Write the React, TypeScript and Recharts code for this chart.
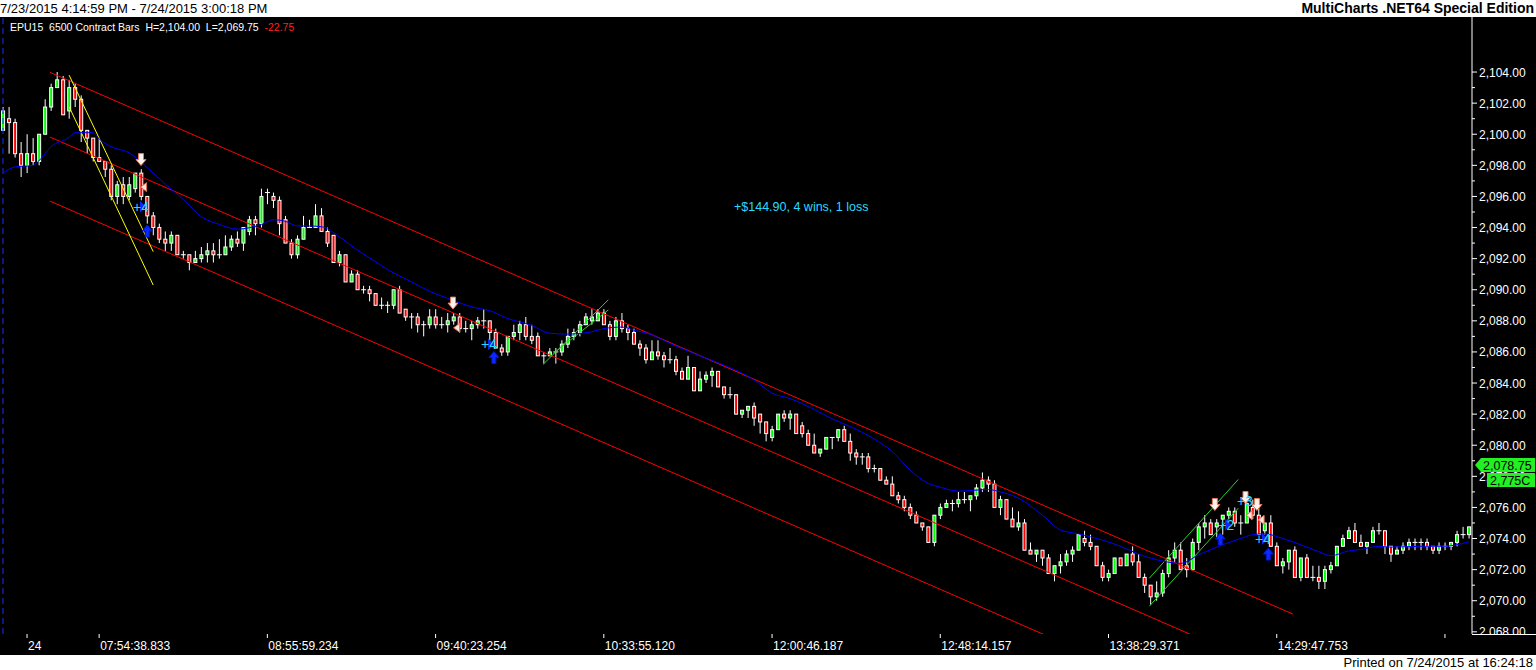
import React from 'react';
import { ComposedChart, Bar, Line, XAxis, YAxis, ReferenceLine, ReferenceDot } from 'recharts';

const opens = [
  2100.25, 2101.0, 2100.75, 2098.75, 2098.0, 2098.75, 2098.25, 2100.0, 2101.75, 2103.0,
  2103.5, 2101.5, 2103.0, 2102.25, 2100.25, 2099.75, 2098.5, 2098.25, 2097.75, 2096.0,
  2096.75, 2096.0, 2096.5, 2097.5, 2096.0, 2094.75, 2094.0, 2093.25, 2093.0, 2093.5,
  2092.25, 2092.25, 2091.75, 2092.0, 2092.25, 2092.5, 2092.25, 2092.25, 2092.75, 2093.25,
  2093.0, 2093.75, 2094.5, 2094.25, 2096.25, 2096.0, 2095.75, 2094.5, 2093.0, 2092.25,
  2093.25, 2094.0, 2094.0, 2094.75, 2093.75, 2093.5, 2091.75, 2092.25, 2090.5, 2091.0,
  2090.0, 2090.0, 2089.75, 2089.0, 2089.0, 2089.0, 2090.0, 2088.75, 2088.25, 2088.25,
  2087.75, 2087.75, 2088.25, 2087.75, 2087.75, 2088.0, 2088.25, 2087.5, 2087.5, 2087.75,
  2088.0, 2088.0, 2087.25, 2086.25, 2086.0, 2087.0, 2087.25, 2087.75, 2087.0, 2087.0,
  2085.75, 2085.75, 2086.0, 2086.0, 2086.5, 2087.0, 2087.25, 2087.75, 2088.0, 2088.0,
  2088.5, 2087.75, 2087.0, 2088.0, 2087.5, 2087.25, 2086.5, 2086.25, 2085.5, 2086.0,
  2085.75, 2085.5, 2085.5, 2084.75, 2084.25, 2085.0, 2083.5, 2084.25, 2084.5, 2084.75,
  2083.75, 2083.25, 2083.25, 2082.0, 2082.25, 2082.5, 2082.0, 2081.5, 2080.5, 2081.0,
  2082.0, 2081.75, 2082.0, 2081.25, 2080.75, 2080.0, 2079.5, 2079.75, 2080.5, 2080.5,
  2081.0, 2080.25, 2079.5, 2079.25, 2079.25, 2078.5, 2078.5, 2077.75, 2077.5, 2076.75,
  2076.5, 2076.0, 2075.5, 2075.0, 2074.75, 2073.75, 2075.5, 2076.0, 2076.25, 2076.25,
  2076.5, 2076.5, 2076.75, 2077.25, 2077.75, 2077.5, 2076.0, 2076.5, 2075.25, 2074.75,
  2075.0, 2073.25, 2073.0, 2073.25, 2072.75, 2071.75, 2072.25, 2072.5, 2073.0, 2073.25,
  2074.0, 2073.75, 2073.5, 2072.25, 2071.5, 2071.75, 2072.75, 2072.25, 2073.0, 2072.5,
  2071.5, 2071.0, 2070.25, 2070.5, 2071.75, 2072.75, 2073.25, 2072.25, 2072.0, 2073.75,
  2074.75, 2075.0, 2074.75, 2075.25, 2075.5, 2075.75, 2075.0, 2075.0, 2076.0, 2075.5,
  2074.5, 2075.0, 2073.5, 2072.25, 2072.5, 2073.25, 2071.5, 2072.75, 2071.5, 2071.5,
  2071.25, 2072.0, 2072.25, 2073.5, 2074.0, 2074.5, 2073.75, 2073.5, 2073.75, 2074.5,
  2074.5, 2073.5, 2073.0, 2073.25, 2073.5, 2073.75, 2073.75, 2073.75, 2073.5, 2073.25,
  2073.5, 2073.5, 2073.75, 2074.25, 2074.25,
];

const highs = [
  2101.75, 2101.75, 2101.0, 2099.5, 2100.0, 2099.75, 2100.0, 2102.25, 2103.25, 2104.0,
  2103.75, 2103.5, 2103.25, 2102.5, 2100.25, 2099.75, 2099.75, 2098.25, 2098.0, 2097.0,
  2097.25, 2097.25, 2097.5, 2097.75, 2096.0, 2095.0, 2094.25, 2093.75, 2093.75, 2093.5,
  2092.5, 2092.25, 2092.5, 2092.75, 2093.0, 2093.0, 2093.25, 2093.5, 2093.5, 2093.75,
  2094.0, 2094.75, 2094.75, 2096.5, 2096.5, 2096.25, 2096.0, 2094.75, 2093.25, 2093.5,
  2094.75, 2094.5, 2095.5, 2095.25, 2094.0, 2093.5, 2092.5, 2092.25, 2091.25, 2091.25,
  2090.25, 2090.25, 2089.75, 2089.5, 2089.25, 2090.0, 2090.25, 2088.75, 2088.5, 2088.5,
  2088.0, 2088.75, 2088.75, 2088.25, 2088.5, 2088.5, 2088.5, 2088.0, 2088.0, 2088.25,
  2088.75, 2088.0, 2087.5, 2086.5, 2087.0, 2087.75, 2088.0, 2088.25, 2087.75, 2087.25,
  2086.0, 2086.25, 2086.25, 2086.75, 2087.5, 2087.5, 2088.0, 2088.5, 2088.75, 2088.75,
  2088.75, 2088.0, 2088.25, 2088.5, 2087.75, 2087.5, 2086.75, 2086.5, 2086.75, 2086.75,
  2086.0, 2086.25, 2085.75, 2085.0, 2085.75, 2085.0, 2084.75, 2084.75, 2085.0, 2084.75,
  2083.75, 2083.75, 2083.25, 2082.25, 2082.5, 2082.75, 2082.0, 2081.5, 2081.25, 2082.0,
  2082.25, 2082.25, 2082.0, 2081.5, 2081.0, 2080.75, 2079.75, 2080.5, 2080.5, 2081.0,
  2081.25, 2080.75, 2079.75, 2079.5, 2079.5, 2078.75, 2078.5, 2078.0, 2078.0, 2077.0,
  2076.75, 2076.25, 2075.75, 2075.0, 2074.75, 2075.5, 2076.25, 2076.5, 2076.5, 2077.0,
  2077.0, 2076.75, 2077.5, 2078.25, 2078.0, 2077.75, 2076.75, 2076.5, 2076.0, 2075.75,
  2075.25, 2073.75, 2073.25, 2073.25, 2073.0, 2072.25, 2073.0, 2073.25, 2073.5, 2074.25,
  2074.5, 2074.25, 2073.5, 2072.5, 2072.0, 2072.75, 2072.75, 2073.0, 2073.5, 2073.0,
  2071.75, 2071.0, 2071.25, 2072.0, 2073.25, 2073.75, 2073.75, 2072.75, 2074.0, 2075.0,
  2075.5, 2075.25, 2075.25, 2075.5, 2076.0, 2076.0, 2075.5, 2076.75, 2076.5, 2076.25,
  2075.0, 2075.5, 2073.75, 2072.75, 2073.25, 2073.5, 2072.75, 2073.0, 2072.25, 2072.25,
  2072.25, 2072.5, 2073.5, 2074.25, 2074.75, 2075.0, 2074.25, 2073.75, 2074.75, 2075.0,
  2074.5, 2073.5, 2073.5, 2073.75, 2074.0, 2074.0, 2074.0, 2074.0, 2073.5, 2073.75,
  2073.75, 2073.75, 2074.5, 2074.75, 2074.75,
];

const lows = [
  2100.25, 2098.75, 2098.5, 2097.25, 2097.5, 2098.0, 2098.0, 2100.0, 2101.5, 2103.0,
  2101.25, 2101.0, 2101.75, 2099.5, 2098.75, 2098.25, 2098.25, 2097.25, 2095.75, 2095.5,
  2095.5, 2095.75, 2096.25, 2095.75, 2094.25, 2093.5, 2093.0, 2092.5, 2092.5, 2092.25,
  2092.0, 2091.25, 2091.75, 2091.75, 2091.75, 2091.75, 2092.0, 2092.25, 2092.5, 2092.75,
  2092.5, 2093.5, 2093.5, 2094.0, 2095.5, 2095.25, 2093.5, 2093.0, 2092.0, 2092.0,
  2093.25, 2094.0, 2094.0, 2093.75, 2092.75, 2091.75, 2091.5, 2090.5, 2090.5, 2090.0,
  2089.75, 2089.25, 2089.0, 2088.75, 2088.5, 2088.75, 2088.5, 2088.0, 2087.5, 2087.25,
  2087.0, 2087.5, 2087.5, 2087.5, 2087.25, 2087.75, 2087.25, 2087.25, 2086.75, 2087.5,
  2087.5, 2086.75, 2086.25, 2085.75, 2085.75, 2086.75, 2086.75, 2086.75, 2086.5, 2085.75,
  2085.25, 2085.75, 2085.25, 2085.75, 2086.25, 2086.75, 2087.0, 2087.75, 2087.75, 2088.0,
  2087.75, 2086.75, 2086.75, 2087.25, 2086.75, 2086.5, 2085.75, 2085.25, 2085.5, 2085.5,
  2085.0, 2085.25, 2084.5, 2084.25, 2084.25, 2083.5, 2083.5, 2084.0, 2083.75, 2083.75,
  2083.0, 2083.0, 2082.0, 2081.75, 2081.75, 2081.25, 2080.75, 2080.25, 2080.25, 2081.0,
  2081.5, 2081.0, 2080.75, 2080.5, 2080.0, 2079.5, 2079.25, 2079.75, 2079.75, 2080.25,
  2080.25, 2079.0, 2078.75, 2078.75, 2078.25, 2078.25, 2077.75, 2077.5, 2076.75, 2076.25,
  2075.75, 2075.25, 2075.0, 2074.5, 2073.75, 2073.5, 2075.25, 2076.0, 2075.75, 2076.0,
  2076.25, 2075.75, 2076.5, 2077.0, 2077.0, 2076.0, 2075.5, 2075.25, 2074.75, 2074.5,
  2073.25, 2073.0, 2072.5, 2072.25, 2071.75, 2071.25, 2071.75, 2072.25, 2072.5, 2073.25,
  2073.5, 2073.25, 2072.25, 2071.25, 2071.25, 2071.75, 2072.25, 2072.25, 2072.25, 2071.5,
  2070.5, 2069.75, 2070.0, 2070.25, 2071.5, 2072.5, 2072.0, 2071.5, 2072.0, 2073.25,
  2074.0, 2074.25, 2074.0, 2074.25, 2075.25, 2074.75, 2074.25, 2075.0, 2075.25, 2074.25,
  2074.25, 2073.5, 2072.25, 2071.75, 2072.0, 2071.5, 2071.25, 2071.5, 2071.25, 2070.75,
  2070.75, 2071.75, 2072.25, 2073.5, 2074.0, 2073.75, 2073.5, 2073.0, 2073.75, 2074.25,
  2073.0, 2072.5, 2073.0, 2073.0, 2073.25, 2073.25, 2073.25, 2073.25, 2073.0, 2073.0,
  2073.25, 2073.25, 2073.5, 2074.0, 2074.0,
];

const closes = [
  2101.5, 2100.75, 2098.75, 2098.0, 2098.75, 2098.25, 2100.0, 2101.75, 2103.0, 2103.5,
  2101.25, 2103.0, 2102.25, 2100.25, 2099.75, 2098.5, 2098.25, 2097.75, 2096.0, 2096.75,
  2096.0, 2096.75, 2097.5, 2096.0, 2094.75, 2094.0, 2093.25, 2093.0, 2093.5, 2092.25,
  2092.25, 2091.75, 2092.0, 2092.25, 2092.5, 2092.25, 2092.25, 2092.75, 2093.25, 2093.0,
  2094.0, 2094.5, 2094.25, 2096.0, 2096.25, 2095.75, 2094.25, 2093.0, 2092.25, 2093.25,
  2094.0, 2094.0, 2094.75, 2093.75, 2093.0, 2091.75, 2092.25, 2090.5, 2091.0, 2090.0,
  2090.0, 2089.75, 2089.0, 2089.0, 2089.0, 2090.0, 2088.5, 2088.25, 2088.25, 2087.75,
  2087.75, 2088.25, 2087.75, 2087.75, 2088.0, 2088.25, 2087.5, 2087.5, 2087.75, 2088.0,
  2088.0, 2087.25, 2086.25, 2086.0, 2087.0, 2087.25, 2087.75, 2087.0, 2086.75, 2085.75,
  2085.75, 2086.0, 2086.0, 2086.5, 2087.0, 2087.25, 2087.75, 2088.25, 2088.25, 2088.5,
  2087.75, 2087.0, 2088.0, 2087.5, 2087.25, 2086.5, 2086.25, 2085.5, 2086.0, 2085.75,
  2085.5, 2085.5, 2084.75, 2084.25, 2085.0, 2083.5, 2084.25, 2084.5, 2084.75, 2083.75,
  2083.25, 2083.25, 2082.0, 2082.25, 2082.5, 2081.75, 2081.5, 2080.75, 2081.0, 2082.0,
  2081.75, 2082.0, 2080.75, 2080.75, 2080.0, 2079.5, 2079.75, 2080.5, 2080.5, 2081.0,
  2080.25, 2079.5, 2079.25, 2079.25, 2078.5, 2078.5, 2077.75, 2077.5, 2076.75, 2076.5,
  2076.0, 2075.5, 2075.0, 2074.75, 2073.75, 2075.5, 2076.0, 2076.25, 2076.25, 2076.5,
  2076.5, 2076.75, 2077.25, 2077.75, 2077.5, 2076.0, 2076.5, 2075.25, 2074.75, 2075.0,
  2073.25, 2073.0, 2073.25, 2072.75, 2071.75, 2072.25, 2072.5, 2073.0, 2073.25, 2074.25,
  2073.75, 2073.5, 2072.25, 2071.5, 2071.75, 2072.75, 2072.25, 2073.0, 2072.5, 2071.5,
  2071.0, 2070.25, 2070.5, 2071.75, 2072.75, 2073.25, 2072.0, 2072.0, 2073.75, 2074.75,
  2075.0, 2074.25, 2075.0, 2075.5, 2075.75, 2075.0, 2075.0, 2076.25, 2075.5, 2074.25,
  2075.0, 2073.5, 2072.25, 2072.5, 2073.25, 2071.5, 2072.75, 2071.5, 2071.5, 2071.25,
  2072.0, 2072.25, 2073.5, 2074.0, 2074.5, 2073.75, 2073.5, 2073.75, 2074.5, 2074.5,
  2073.5, 2073.0, 2073.25, 2073.5, 2073.75, 2073.75, 2073.75, 2073.5, 2073.25, 2073.5,
  2073.5, 2073.75, 2074.25, 2074.25, 2074.75,
];

// moving average readings: bar index -> value
const maIdx = [
  0, 2, 5, 6, 8, 11, 12, 15, 16, 18, 21, 23, 25, 27, 30, 33, 36, 39, 43, 45, 47, 49, 51, 53, 56, 59,
  62, 64, 68, 71, 74, 78, 81, 84, 88, 91, 94, 98, 100, 103, 105, 108, 111, 117, 120, 125, 128, 131,
  135, 138, 141, 145, 148, 151, 154, 156, 159, 164, 166, 169, 173, 176, 179, 183, 186, 189, 193, 196,
  199, 203, 206, 208, 210, 213, 216, 219, 221, 224, 226, 229, 231, 236, 240, 242, 244,
];
const maVals = [
  2097.5, 2097.9, 2098.0, 2098.3, 2099.2, 2099.8, 2100.1, 2100.1, 2099.7, 2099.2, 2098.8, 2098.2,
  2097.5, 2096.8, 2095.8, 2094.7, 2094.2, 2093.9, 2094.2, 2094.5, 2094.4, 2094.1, 2094.1, 2094.05,
  2093.4, 2092.55, 2091.8, 2091.3, 2090.5, 2089.9, 2089.45, 2088.9, 2088.65, 2088.15, 2087.7, 2087.2,
  2087.15, 2087.3, 2087.5, 2087.6, 2087.4, 2087.1, 2086.55, 2085.6, 2085.15, 2084.2, 2083.35, 2083.0,
  2082.3, 2081.7, 2081.2, 2080.4, 2079.6, 2078.4, 2077.55, 2077.3, 2077.05, 2077.15, 2077.0, 2076.6,
  2075.5, 2074.55, 2074.3, 2073.9, 2073.5, 2073.0, 2072.55, 2072.4, 2072.95, 2073.6, 2074.0, 2074.25,
  2074.3, 2074.0, 2073.6, 2073.15, 2072.9, 2073.2, 2073.3, 2073.5, 2073.45, 2073.5, 2073.5, 2073.6,
  2073.8,
];

const xTickIdx = [4, 16, 44, 72, 100, 128, 156, 184, 212, 240];
const xTickLabels = ['24', '07:54:38.833', '08:55:59.234', '09:40:23.254', '10:33:55.120', '12:00:46.187', '12:48:14.157', '13:38:29.371', '14:29:47.753', ''];

const yTicks = [
  2068, 2069, 2070, 2071, 2072, 2073, 2074, 2075, 2076, 2077, 2078, 2079, 2080, 2081, 2082, 2083, 2084,
  2085, 2086, 2087, 2088, 2089, 2090, 2091, 2092, 2093, 2094, 2095, 2096, 2097, 2098, 2099, 2100, 2101,
  2102, 2103, 2104,
];

// drawn trend lines: [startBar, startPrice, endBar, endPrice]
const redLines = [
  [7.82, 2103.98, 214.7, 2069.14],
  [7.82, 2099.82, 244.5, 2059.94],
  [7.82, 2095.7, 244.5, 2055.82],
];
const yellowLines = [
  [11.0, 2103.8, 25.0, 2092.45],
  [11.0, 2101.77, 25.0, 2090.3],
];
const greenLines = [
  [89.9, 2085.2, 100.75, 2089.35],
  [91.6, 2085.9, 100.75, 2088.7],
  [190.8, 2071.45, 205.6, 2077.8],
  [190.8, 2069.65, 205.6, 2075.95],
];

// trade signals: [bar, price]
const sellArrows = [[22.97, 2098.37], [74.9, 2089.14], [201.7, 2076.19], [206.8, 2076.64], [208.7, 2076.19]];
const buyArrows = [[24.0, 2093.78], [81.7, 2085.64], [202.6, 2073.97], [210.6, 2073.0]];
const exitMarks = [[23.4, 2096.6], [75.5, 2087.55], [207.4, 2075.5], [209.4, 2075.2]];
const tradeLabelBars = [22.97, 80.9, 203.6, 206.7, 209.7];
const tradeLabelPrices = [2095.34, 2086.5, 2074.9, 2076.4, 2073.97];
const tradeLabelTexts = ['+4', '+4', '+2', '+3', '+4'];

const maMap: Record<number, number> = {};
maIdx.forEach((k, j) => {
  maMap[k] = maVals[j];
});

const data = opens.map((o, i) => ({
  i,
  o,
  h: highs[i],
  l: lows[i],
  c: closes[i],
  range: [lows[i], highs[i]],
  ma: maMap[i] !== undefined ? maMap[i] : null,
}));

const FONT = '"Liberation Sans", Arial, sans-serif';
const CHART_H = 638;
const XAXIS_H = 21;
const PLOT_BOTTOM = CHART_H - XAXIS_H;

const Candle = (props: any) => {
  const { x, y, width, height, payload } = props;
  if (x == null || y == null || !payload) return null;
  const cx = x + width / 2;
  const span = payload.h - payload.l;
  const k = span > 0 ? height / span : 0;
  const yO = y + (payload.h - payload.o) * k;
  const yC = y + (payload.h - payload.c) * k;
  const top = Math.min(yO, yC);
  const bot = Math.max(yO, yC);
  const up = payload.c > payload.o;
  const down = payload.c < payload.o;
  return (
    <g>
      <line x1={cx} x2={cx} y1={y} y2={y + height} stroke="#ffffff" strokeWidth={1} />
      {up || down ? (
        <rect x={cx - 1.5} y={top} width={3} height={Math.max(bot - top, 1)} fill={up ? '#00ff00' : '#ff0000'} stroke="#ffffff" strokeWidth={1} />
      ) : (
        <line x1={cx - 2.5} x2={cx + 2.5} y1={yO} y2={yO} stroke="#ffffff" strokeWidth={1} />
      )}
    </g>
  );
};

const YTick = (props: any) => {
  const { x, y, payload } = props;
  const v = payload.value;
  const major = v % 2 === 0;
  const label = v.toLocaleString('en-US', { minimumFractionDigits: 2, maximumFractionDigits: 2 });
  return (
    <g>
      <line x1={x} x2={x + (major ? 5 : 3)} y1={y} y2={y} stroke="#ffffff" strokeWidth={1} />
      {major ? (
        <text x={x + 7} y={y + 4.5} fill="#ffffff" fontSize={12} fontFamily={FONT}>
          {label}
        </text>
      ) : null}
    </g>
  );
};

const XTick = (props: any) => {
  const { x, payload } = props;
  const y = PLOT_BOTTOM;
  const idx = xTickIdx.indexOf(payload.value);
  const label = idx >= 0 ? xTickLabels[idx] : '';
  return (
    <g>
      <line x1={x} x2={x} y1={y} y2={y + 4} stroke="#ffffff" strokeWidth={1} />
      <text x={x + 1} y={y + 16} fill="#ffffff" fontSize={12} fontFamily={FONT}>
        {label}
      </text>
    </g>
  );
};

const SellArrow = (props: any) => {
  const { cx, cy } = props;
  const pts = [
    [-2.5, -6], [2.5, -6], [2.5, 0], [5, 0], [0, 6], [-5, 0], [-2.5, 0],
  ].map(([a, b]) => `${cx + a},${cy + b}`).join(' ');
  return <polygon points={pts} fill="#fff3ee" stroke="#e8785a" strokeWidth={1} />;
};

const BuyArrow = (props: any) => {
  const { cx, cy } = props;
  const pts = [
    [0, -6], [5, 0], [2, 0], [2, 6], [-2, 6], [-2, 0], [-5, 0],
  ].map(([a, b]) => `${cx + a},${cy + b}`).join(' ');
  return <polygon points={pts} fill="#0a28ff" stroke="#0018d0" strokeWidth={1} />;
};

const ExitMark = (props: any) => {
  const { cx, cy } = props;
  const pts = [[-3, 0], [3, -4.5], [3, 4.5]].map(([a, b]) => `${cx + a},${cy + b}`).join(' ');
  return <polygon points={pts} fill="#ffe6dc" stroke="#e07050" strokeWidth={1} />;
};

const makeTradeLabel = (text: string, withFlag: boolean) => (props: any) => {
  const { cx, cy } = props;
  return (
    <g>
      {withFlag ? (
        <polygon points={`${cx - 1},${cy - 6} ${cx + 5},${cy} ${cx - 1},${cy + 6}`} fill="#0a28ff" />
      ) : null}
      <text x={cx} y={cy + 5} textAnchor="middle" fill="#2ad8ff" fontSize={14} fontFamily={FONT}>
        {text}
      </text>
    </g>
  );
};

export default function App() {
  return (
    <div style={{ position: 'absolute', left: 0, top: 0, width: 1536, height: 670, background: '#ffffff', overflow: 'hidden', fontFamily: FONT }}>
      <div style={{ position: 'absolute', left: 0, top: 0, width: 1536, height: 17, background: '#ffffff' }}>
        <div style={{ position: 'absolute', left: 0, top: 0, fontSize: 13, lineHeight: '17px', color: '#000' }}>
          7/23/2015 4:14:59 PM - 7/24/2015 3:00:18 PM
        </div>
        <div style={{ position: 'absolute', right: 2, top: 0, fontSize: 14, lineHeight: '17px', fontWeight: 'bold', color: '#000' }}>
          MultiCharts .NET64 Special Edition
        </div>
      </div>
      <div style={{ position: 'absolute', left: 0, top: 17, width: 1536, height: CHART_H, background: '#000000' }}>
        <ComposedChart width={1536} height={CHART_H} data={data} margin={{ top: 0, right: 0, bottom: 0, left: 0 }}>
          <XAxis xAxisId="cat" dataKey="i" type="category" hide />
          <XAxis
            xAxisId="num"
            dataKey="i"
            type="number"
            domain={[-0.5, 244.5]}
            allowDataOverflow
            ticks={xTickIdx}
            interval={0}
            height={XAXIS_H}
            tickSize={0}
            tickMargin={0}
            tickLine={false}
            axisLine={{ stroke: '#ffffff' }}
            tick={(p: any) => <XTick {...p} />}
          />
          <YAxis
            yAxisId="p"
            orientation="right"
            type="number"
            domain={[2067.86, 2107.54]}
            allowDataOverflow
            ticks={yTicks}
            interval={0}
            width={64}
            tickSize={0}
            tickMargin={0}
            tickLine={false}
            axisLine={{ stroke: '#ffffff' }}
            tick={(p: any) => <YTick {...p} />}
          />
          <ReferenceLine xAxisId="num" yAxisId="p" x={0} stroke="#1030ff" strokeDasharray="6 4" />
          {redLines.map((s, k) => (
            <ReferenceLine
              key={`r${k}`}
              xAxisId="num"
              yAxisId="p"
              segment={[{ x: s[0], y: s[1] }, { x: s[2], y: s[3] }]}
              stroke="#ff0000"
              strokeWidth={1}
              ifOverflow="hidden"
            />
          ))}
          {yellowLines.map((s, k) => (
            <ReferenceLine
              key={`y${k}`}
              xAxisId="num"
              yAxisId="p"
              segment={[{ x: s[0], y: s[1] }, { x: s[2], y: s[3] }]}
              stroke="#ffff00"
              strokeWidth={1}
              ifOverflow="hidden"
            />
          ))}
          {greenLines.map((s, k) => (
            <ReferenceLine
              key={`g${k}`}
              xAxisId="num"
              yAxisId="p"
              segment={[{ x: s[0], y: s[1] }, { x: s[2], y: s[3] }]}
              stroke="#30d030"
              strokeWidth={1}
              ifOverflow="hidden"
            />
          ))}
          <Bar xAxisId="cat" yAxisId="p" dataKey="range" shape={Candle} isAnimationActive={false} />
          <Line
            xAxisId="num"
            yAxisId="p"
            dataKey="ma"
            type="monotone"
            stroke="#0000ff"
            strokeWidth={1}
            dot={false}
            activeDot={false}
            connectNulls
            isAnimationActive={false}
          />
          {exitMarks.map((m, k) => (
            <ReferenceDot key={`e${k}`} xAxisId="num" yAxisId="p" x={m[0]} y={m[1]} r={4} shape={ExitMark} />
          ))}
          {sellArrows.map((m, k) => (
            <ReferenceDot key={`s${k}`} xAxisId="num" yAxisId="p" x={m[0]} y={m[1]} r={6} shape={SellArrow} />
          ))}
          {buyArrows.map((m, k) => (
            <ReferenceDot key={`b${k}`} xAxisId="num" yAxisId="p" x={m[0]} y={m[1]} r={6} shape={BuyArrow} />
          ))}
          {tradeLabelTexts.map((t, k) => (
            <ReferenceDot
              key={`t${k}`}
              xAxisId="num"
              yAxisId="p"
              x={tradeLabelBars[k]}
              y={tradeLabelPrices[k]}
              r={6}
              shape={makeTradeLabel(t, t !== '+3')}
            />
          ))}
        </ComposedChart>
        <div style={{ position: 'absolute', left: 10, top: 4, fontSize: 10.5, lineHeight: '13px', color: '#ffffff', whiteSpace: 'pre' }}>
          {'EPU15  6500 Contract Bars  H=2,104.00  L=2,069.75  '}
          <span style={{ color: '#ff2020' }}>-22.75</span>
        </div>
        <div style={{ position: 'absolute', left: 734, top: 182, fontSize: 12.5, lineHeight: '16px', color: '#2ad8ff', whiteSpace: 'pre' }}>
          +$144.90, 4 wins, 1 loss
        </div>
        <div style={{ position: 'absolute', left: 1473, top: 618, width: 63, height: 20, background: '#000000' }} />
        <div style={{ position: 'absolute', left: 1472, top: 617, width: 64, height: 1, background: '#ffffff' }} />
        <svg style={{ position: 'absolute', left: 1472, top: 433 }} width={64} height={40}>
          <polygon points="3,15 9,8 63,8 63,22 9,22" fill="#22f022" />
          <text x={11} y={19.5} fontSize={12.5} fill="#000000" fontFamily={FONT}>2,078.75</text>
          <rect x={15} y={23} width={48} height={14} fill="#22f022" />
          <text x={18} y={34.5} fontSize={12.5} fill="#000000" fontFamily={FONT}>2,775C</text>
        </svg>
      </div>
      <div style={{ position: 'absolute', right: 3, top: 655, fontSize: 13, lineHeight: '15px', color: '#000000' }}>
        Printed on 7/24/2015 at 16:24:18
      </div>
    </div>
  );
}
